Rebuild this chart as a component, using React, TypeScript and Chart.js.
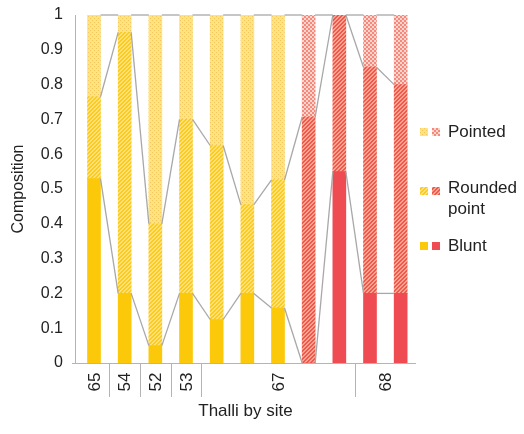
import React, { useEffect, useRef } from 'react';
import { Chart, registerables } from 'chart.js';

Chart.register(...registerables);

// ---- data ----
const sites = ['65', '54', '52', '53', '67', '68'];
const siteFirstBar = [0, 1, 2, 3, 4, 9];
const siteLastBar = [0, 1, 2, 3, 8, 10];
const barColourGroup = ['y', 'y', 'y', 'y', 'y', 'y', 'y', 'r', 'r', 'r', 'r'];
const blunt = [0.53, 0.2, 0.05, 0.2, 0.125, 0.2, 0.158, 0, 0.55, 0.2, 0.2];
const roundedPoint = [0.235, 0.75, 0.35, 0.5, 0.5, 0.255, 0.368, 0.707, 0.45, 0.65, 0.6];
const pointedTip = [0.235, 0.05, 0.6, 0.3, 0.375, 0.545, 0.474, 0.293, 0, 0.15, 0.2];
const seriesLabels = ['Blunt', 'Rounded point', 'Pointed'];
const legendLines = [['Pointed'], ['Rounded', 'point'], ['Blunt']];
const yTickLabels = ['0', '0.1', '0.2', '0.3', '0.4', '0.5', '0.6', '0.7', '0.8', '0.9', '1'];
const yTitle = 'Composition';
const xTitle = 'Thalli by site';

const FONT = "'Liberation Sans', Arial, Helvetica, sans-serif";

function tile(size: number, draw: (g: CanvasRenderingContext2D) => void) {
  const c = document.createElement('canvas');
  c.width = size;
  c.height = size;
  const g = c.getContext('2d')!;
  draw(g);
  return g.createPattern(c, 'repeat')!;
}

function hatch(bg: string, fg: string) {
  return tile(4, (g) => {
    g.fillStyle = bg;
    g.fillRect(0, 0, 4, 4);
    g.fillStyle = fg;
    for (let y = 0; y < 4; y++)
      for (let x = 0; x < 4; x++) if ((x + y) % 4 === 0 || (x + y) % 4 === 1) g.fillRect(x, y, 1, 1);
  });
}

function dots(bg: string, fg: string) {
  return tile(4, (g) => {
    g.fillStyle = bg;
    g.fillRect(0, 0, 4, 4);
    g.fillStyle = fg;
    g.fillRect(0, 0, 1, 1);
    g.fillRect(2, 2, 1, 1);
  });
}

function checker(bg: string, fg: string) {
  return tile(4, (g) => {
    g.fillStyle = bg;
    g.fillRect(0, 0, 4, 4);
    g.fillStyle = fg;
    g.fillRect(0, 0, 2, 2);
    g.fillRect(2, 2, 2, 2);
  });
}

export default function App() {
  const ref = useRef<HTMLCanvasElement | null>(null);

  useEffect(() => {
    const canvas = ref.current;
    if (!canvas) return;

    const fills: Record<string, any[]> = {
      y: ['#fcc80a', hatch('#fde07a', '#fbcb1e'), dots('#fbe581', '#f6c65c')],
      r: ['#ee4c52', hatch('#f7a38d', '#ee584f'), checker('#fcd6cd', '#f5877c')],
    };

    const series = [blunt, roundedPoint, pointedTip];
    const cum: number[][] = [];
    let run = blunt.map(() => 0);
    series.forEach((s) => {
      run = run.map((v, i) => v + s[i]);
      cum.push(run.slice());
    });

    const seriesLines = {
      id: 'seriesLines',
      afterDatasetsDraw(chart: any) {
        const xs = chart.scales.x;
        const ys = chart.scales.y;
        const meta = chart.getDatasetMeta(0);
        const ctx = chart.ctx;
        ctx.save();
        ctx.strokeStyle = '#a8a8a8';
        ctx.lineWidth = 1.3;
        cum.forEach((lv) => {
          for (let i = 0; i < lv.length - 1; i++) {
            const h1 = meta.data[i].width / 2;
            const h2 = meta.data[i + 1].width / 2;
            ctx.beginPath();
            ctx.moveTo(xs.getPixelForValue(i) + h1, ys.getPixelForValue(Math.min(1, lv[i])));
            ctx.lineTo(xs.getPixelForValue(i + 1) - h2, ys.getPixelForValue(Math.min(1, lv[i + 1])));
            ctx.stroke();
          }
        });
        ctx.restore();
      },
    };

    const siteAxis = {
      id: 'siteAxis',
      afterDraw(chart: any) {
        const xs = chart.scales.x;
        const { left, right, bottom } = chart.chartArea;
        const ctx = chart.ctx;
        ctx.save();
        ctx.strokeStyle = '#b4b4b4';
        ctx.lineWidth = 1;
        ctx.beginPath();
        ctx.moveTo(left - 3, Math.round(bottom) + 0.5);
        ctx.lineTo(right, Math.round(bottom) + 0.5);
        ctx.stroke();
        for (let g = 0; g < sites.length - 1; g++) {
          const x = Math.round(xs.getPixelForValue(siteLastBar[g] + 0.5)) + 0.5;
          ctx.beginPath();
          ctx.moveTo(x, bottom);
          ctx.lineTo(x, bottom + 34);
          ctx.stroke();
        }
        ctx.fillStyle = '#222';
        ctx.font = `17px ${FONT}`;
        ctx.textAlign = 'center';
        ctx.textBaseline = 'middle';
        sites.forEach((s, g) => {
          const x = xs.getPixelForValue((siteFirstBar[g] + siteLastBar[g]) / 2);
          ctx.save();
          ctx.translate(x, bottom + 19);
          ctx.rotate(-Math.PI / 2);
          ctx.fillText(s, 0, 1);
          ctx.restore();
        });
        ctx.restore();
      },
    };

    const legendBox = {
      id: 'legendBox',
      afterDraw(chart: any) {
        const { right } = chart.chartArea;
        const ctx = chart.ctx;
        const rows = [
          { y: 132, k: 2 },
          { y: 191, k: 1 },
          { y: 246, k: 0 },
        ];
        ctx.save();
        ctx.font = `17px ${FONT}`;
        ctx.fillStyle = '#222';
        ctx.textBaseline = 'middle';
        ctx.textAlign = 'left';
        rows.forEach((r, idx) => {
          ctx.fillStyle = fills.y[r.k];
          ctx.fillRect(right + 4, r.y - 4, 8, 8);
          ctx.fillStyle = fills.r[r.k];
          ctx.fillRect(right + 16, r.y - 4, 8, 8);
          ctx.fillStyle = '#222';
          const lines = legendLines[idx];
          lines.forEach((t, li) => {
            ctx.fillText(t, right + 32, r.y - 3 + li * 21 + (lines.length === 1 ? 3 : 0));
          });
        });
        ctx.restore();
      },
    };

    const chart = new Chart(canvas, {
      type: 'bar',
      data: {
        datasets: series.map((s, k) => ({
          label: seriesLabels[k],
          data: s.map((v, i) => ({ x: i, y: v })),
          backgroundColor: barColourGroup.map((c) => fills[c][k]),
          borderWidth: 0,
          barThickness: 13,
        })),
      },
      options: {
        responsive: false,
        animation: false,
        layout: { padding: { top: 15, right: 108, bottom: 0, left: 0 } },
        plugins: { legend: { display: false }, tooltip: { enabled: false } },
        scales: {
          x: {
            type: 'linear',
            min: -0.62,
            max: 10.5,
            bounds: 'data',
            offset: false,
            stacked: true,
            grid: { display: false, drawTicks: false },
            border: { display: false },
            ticks: { display: false },
            afterFit: (s: any) => {
              s.height = 71;
            },
            title: {
              display: true,
              text: xTitle,
              color: '#222',
              font: { family: FONT, size: 17 },
              padding: { top: 0, bottom: 12 },
            },
          },
          y: {
            min: 0,
            max: 1,
            stacked: true,
            grid: { display: false, drawTicks: false },
            border: { display: true, color: '#b4b4b4', width: 1 },
            ticks: {
              stepSize: 0.1,
              padding: 12,
              color: '#222',
              font: { family: FONT, size: 16 },
              callback: (v: any) => yTickLabels[Math.round(Number(v) * 10)] ?? '',
            },
            afterFit: (s: any) => {
              s.width = 75;
              s.paddingTop = 0;
              s.paddingBottom = 0;
            },
            title: {
              display: true,
              text: yTitle,
              color: '#222',
              font: { family: FONT, size: 16 },
              padding: { top: 9, bottom: 0 },
            },
          },
        },
      } as any,
      plugins: [seriesLines, siteAxis, legendBox],
    });

    return () => chart.destroy();
  }, []);

  return (
    <div style={{ position: 'fixed', left: 0, top: 0, width: 524, height: 434, background: '#fff' }}>
      <canvas ref={ref} width={524} height={434} style={{ width: 524, height: 434, display: 'block' }} />
    </div>
  );
}
